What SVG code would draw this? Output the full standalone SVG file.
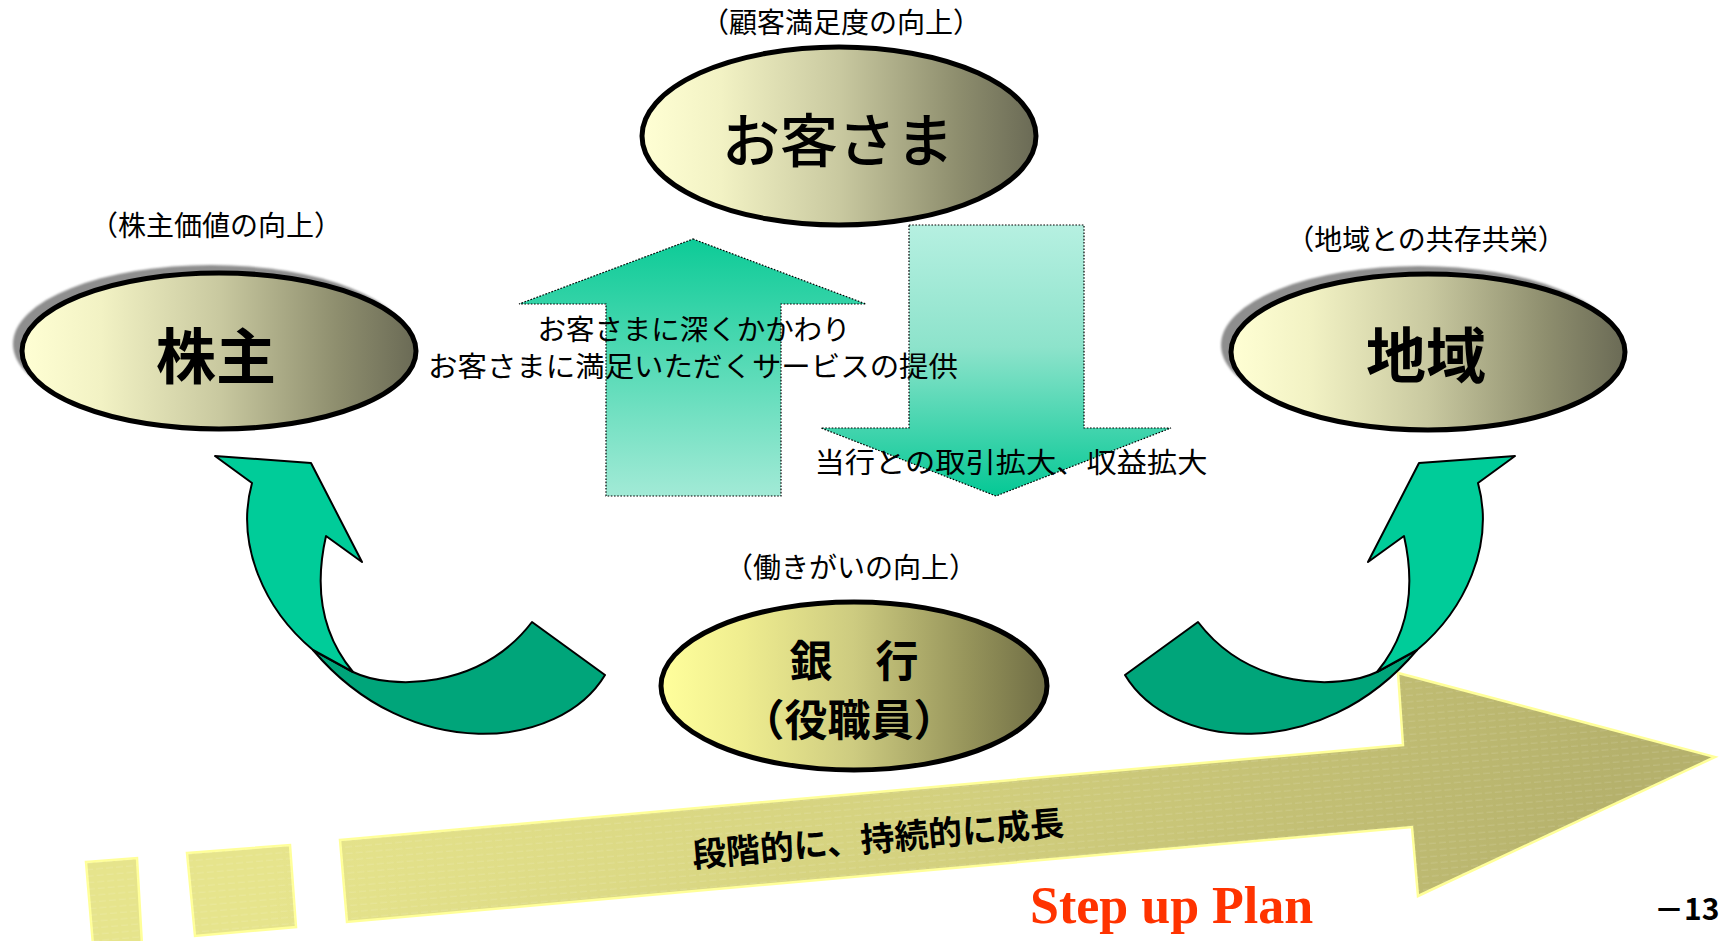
<svg xmlns="http://www.w3.org/2000/svg" width="1722" height="941" viewBox="0 0 1722 941">
<style>
  .lbl { font-family: "Noto Sans CJK JP", "Noto Sans", sans-serif; font-size: 28px; fill: #000; text-anchor: middle; }
  .big { font-family: "Noto Sans CJK JP", "Noto Sans", sans-serif; fill: #000; text-anchor: middle; }
  .node-shape { stroke: #000; stroke-width: 5; }
  .shadow { fill: #8e8e8e; filter: url(#soft); }
  .flow { stroke: #000; stroke-width: 1.2; stroke-dasharray: 1.6 1.6; }
  .curve-front { fill: #00CC99; stroke: #000; stroke-width: 2; stroke-linejoin: round; }
  .curve-back { fill: #00A57A; stroke: #000; stroke-width: 2; stroke-linejoin: round; }
  .growth { stroke: #FFFF99; stroke-width: 2.5; stroke-linejoin: miter; }
</style>
<defs>
  <linearGradient id="gNode" x1="0" y1="0" x2="1" y2="0">
    <stop offset="0" stop-color="#FFFFD4"/>
    <stop offset="0.2" stop-color="#F2F2C4"/>
    <stop offset="0.5" stop-color="#C9C9A0"/>
    <stop offset="0.8" stop-color="#8E8E6E"/>
    <stop offset="1" stop-color="#6A6A55"/>
  </linearGradient>
  <linearGradient id="gBank" x1="0" y1="0" x2="1" y2="0">
    <stop offset="0" stop-color="#FFFF9C"/>
    <stop offset="0.2" stop-color="#F0EE90"/>
    <stop offset="0.5" stop-color="#CDCB80"/>
    <stop offset="0.8" stop-color="#95935A"/>
    <stop offset="1" stop-color="#6F6D45"/>
  </linearGradient>
  <linearGradient id="gUp" x1="0" y1="0" x2="0" y2="1">
    <stop offset="0" stop-color="#0DCB97"/>
    <stop offset="1" stop-color="#A2EAD6"/>
  </linearGradient>
  <linearGradient id="gDown" x1="0" y1="0" x2="0" y2="1">
    <stop offset="0" stop-color="#B6F0E1"/>
    <stop offset="0.45" stop-color="#8DE3CB"/>
    <stop offset="1" stop-color="#05C895"/>
  </linearGradient>
  <linearGradient id="gGrowth" gradientUnits="userSpaceOnUse" x1="300" y1="700" x2="1600" y2="900">
    <stop offset="0" stop-color="#E6E48C"/>
    <stop offset="0.5" stop-color="#D3D07E"/>
    <stop offset="1" stop-color="#B5B16C"/>
  </linearGradient>
  <pattern id="stripes" patternUnits="userSpaceOnUse" width="10" height="6.5" patternTransform="rotate(-5)">
    <line x1="0" y1="3" x2="7" y2="3" stroke="#FFFFFF" stroke-opacity="0.22" stroke-width="0.7"/>
  </pattern>
  <filter id="soft" x="-5%" y="-10%" width="110%" height="120%">
    <feGaussianBlur stdDeviation="1"/>
  </filter>
</defs>

<rect x="0" y="0" width="1722" height="941" fill="#FFFFFF"/>

<!-- growth arrow -->
<g id="growth-arrow">
  <polygon id="gseg1" class="growth" fill="url(#gGrowth)" points="86,862 137,858 142,945 93,945"/>
  <polygon id="gseg2" class="growth" fill="url(#gGrowth)" points="187,853 290,845 296,927 195,936"/>
  <polygon id="gmain" class="growth" fill="url(#gGrowth)" points="340,840 1403,745 1398,673 1715,757 1418,896 1412,827 347,922"/>
  <polygon fill="url(#stripes)" points="86,862 137,858 142,945 93,945"/>
  <polygon fill="url(#stripes)" points="187,853 290,845 296,927 195,936"/>
  <polygon fill="url(#stripes)" points="340,840 1403,745 1398,673 1715,757 1418,896 1412,827 347,922"/>
  <text class="big" x="879" y="851" font-size="34" font-weight="bold" transform="rotate(-5 879 851)">段階的に、持続的に成長</text>
</g>

<!-- connectors -->
<g id="connectors">
  <g id="curve-left">
    <path class="curve-back" d="M313,650 L353,672 C390,690 480,690 532,622 L605,675 C560,750 410,765 313,650 Z"/>
    <path class="curve-front" d="M252,483 L215,456 L311,463 L362,562 L326,536 C316,580 318,630 353,672 L313,650 C265,610 235,545 252,483 Z"/>
  </g>
  <g id="curve-right" transform="translate(1730,0) scale(-1,1)">
    <path class="curve-back" d="M313,650 L353,672 C390,690 480,690 532,622 L605,675 C560,750 410,765 313,650 Z"/>
    <path class="curve-front" d="M252,483 L215,456 L311,463 L362,562 L326,536 C316,580 318,630 353,672 L313,650 C265,610 235,545 252,483 Z"/>
  </g>
  <polygon id="arrow-up" class="flow" fill="url(#gUp)" points="693,239 866,304 781,304 781,496 606,496 606,304 519,304"/>
  <polygon id="arrow-down" class="flow" fill="url(#gDown)" points="909,225 1084,225 1084,428 1171,428 996,496 821,428 909,428"/>
  <text class="lbl" x="694" y="340" textLength="313" lengthAdjust="spacingAndGlyphs">お客さまに深くかかわり</text>
  <text class="lbl" x="693" y="377" font-size="29" textLength="530" lengthAdjust="spacingAndGlyphs">お客さまに満足いただくサービスの提供</text>
  <text class="lbl" x="1011" y="473" font-size="30" textLength="393" lengthAdjust="spacingAndGlyphs">当行との取引拡大、収益拡大</text>
</g>

<!-- nodes -->
<g id="node-customer">
  <text class="lbl" x="841" y="33">（顧客満足度の向上）</text>
  <ellipse class="node-shape" cx="839" cy="136" rx="197" ry="89" fill="url(#gNode)"/>
  <text class="big" x="838" y="162" font-size="58" font-weight="500">お客さま</text>
</g>

<g id="node-shareholder">
  <text class="lbl" x="216" y="236">（株主価値の向上）</text>
  <ellipse class="shadow" cx="211" cy="344" rx="198" ry="79"/>
  <ellipse class="node-shape" cx="219" cy="351" rx="197" ry="78" fill="url(#gNode)"/>
  <text class="big" x="216" y="379" font-size="60" font-weight="bold">株主</text>
</g>

<g id="node-region">
  <text class="lbl" x="1426" y="250">（地域との共存共栄）</text>
  <ellipse class="shadow" cx="1419" cy="345" rx="198" ry="79"/>
  <ellipse class="node-shape" cx="1428" cy="352" rx="197" ry="78" fill="url(#gNode)"/>
  <text class="big" x="1426" y="378" font-size="60" font-weight="bold">地域</text>
</g>

<g id="node-bank">
  <text class="lbl" x="851" y="578">（働きがいの向上）</text>
  <ellipse class="node-shape" cx="854" cy="686" rx="193" ry="84" fill="url(#gBank)"/>
  <text class="big" x="854" y="677" font-size="43" font-weight="bold">銀　行</text>
  <text class="big" x="849" y="736" font-size="43" font-weight="bold">（役職員）</text>
</g>

<text x="1030" y="923" font-family="Liberation Serif, serif" font-size="52" font-weight="bold" fill="#FF3300">Step up Plan</text>
<text x="1654" y="920" font-family="Noto Sans CJK JP, sans-serif" font-size="30" font-weight="bold" fill="#000">－13</text>
</svg>
